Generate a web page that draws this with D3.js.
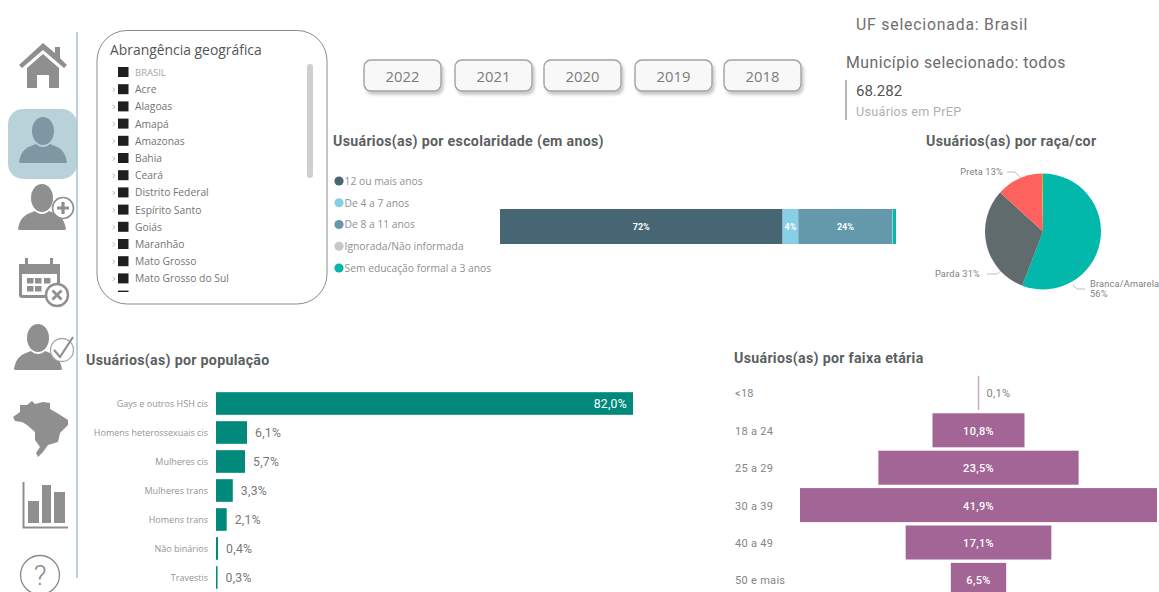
<!DOCTYPE html>
<html lang="pt-BR">
<head>
<meta charset="utf-8">
<title>Usuários em PrEP</title>
<script src="https://cdn.jsdelivr.net/npm/d3@7/dist/d3.min.js"></script>
<style>
  html, body { margin: 0; padding: 0; background: #fff; overflow: hidden; }
  svg { display: block; }
  text { font-family: Roboto, "Open Sans", sans-serif; }
  .seg { font-family: "Open Sans", sans-serif; }
  .axis .domain, .axis line { display: none; }
</style>
</head>
<body>
<svg id="painel" width="1159" height="592" viewBox="0 0 1159 592"></svg>
<script>
// Dados do painel
const anos = ["2022", "2021", "2020", "2019", "2018"];
const estados = ["BRASIL", "Acre", "Alagoas", "Amapá", "Amazonas", "Bahia", "Ceará",
  "Distrito Federal", "Espírito Santo", "Goiás", "Maranhão", "Mato Grosso",
  "Mato Grosso do Sul", "Minas Gerais"];

const escolaridadeCategorias = ["12 ou mais anos", "De 4 a 7 anos", "De 8 a 11 anos",
  "Ignorada/Não informada", "Sem educação formal a 3 anos"];
const escolaridadeValores = [72, 4, 24, 0.1, 0.8];
const escolaridadeCores = ["#466673", "#87cfe6", "#6499ac", "#c8c8c8", "#01b8aa"];

const racaCategorias = ["Branca/Amarela", "Parda", "Preta", "Ignorada"];
const racaValores = [56, 31, 13, 0.3];
const racaCores = ["#01b8aa", "#5f6b6d", "#fd625e", "#d9b300"];

const populacaoCategorias = ["Gays e outros HSH cis", "Homens heterossexuais cis", "Mulheres cis",
  "Mulheres trans", "Homens trans", "Não binários", "Travestis"];
const populacaoValores = [82.0, 6.1, 5.7, 3.3, 2.1, 0.4, 0.3];

const faixaCategorias = ["<18", "18 a 24", "25 a 29", "30 a 39", "40 a 49", "50 e mais"];
const faixaValores = [0.1, 10.8, 23.5, 41.9, 17.1, 6.5];

const totalUsuarios = "68.282";
const virgula = d => d.toFixed(1).replace(".", ",") + "%";

const svg = d3.select("#painel");
const defs = svg.append("defs");
const sombra = defs.append("filter").attr("id", "sombra")
  .attr("x", "-10%").attr("y", "-20%").attr("width", "125%").attr("height", "150%");
sombra.append("feDropShadow").attr("dx", 2).attr("dy", 3).attr("stdDeviation", 1.6)
  .attr("flood-color", "#000").attr("flood-opacity", 0.22);
defs.append("clipPath").attr("id", "clipLista").append("rect")
  .attr("x", 100).attr("y", 62).attr("width", 224).attr("height", 230);
defs.append("clipPath").attr("id", "clipTela").append("rect")
  .attr("width", 1159).attr("height", 592);

const titulo = (x, y, t) => svg.append("text").attr("x", x).attr("y", y).text(t)
  .attr("font-size", 14.2).attr("font-weight", 700).attr("letter-spacing", 0.3).attr("fill", "#5a5f61");

/* ---------- Barra de navegação ---------- */
const cinza = "#8f8f8f";
const nav = svg.append("g");
nav.append("rect").attr("x", 8).attr("y", 109).attr("width", 69).attr("height", 70)
  .attr("rx", 15).attr("fill", "#b9d2da");
nav.append("line").attr("x1", 77).attr("x2", 77).attr("y1", 32).attr("y2", 578)
  .attr("stroke", "#a9c4de").attr("stroke-width", 1.6);

// Casa
nav.append("path").attr("fill", cinza)
  .attr("d", "M43 43 L55 53 V47 H60 V58 L67 65 L64 68 L43 50 L22 68 L19 65 Z M27 68 L43 54 L59 68 V88 H49 V75 H37 V88 H27 Z");

// Silhueta de pessoa: cabeça e ombros
function pessoa(cx, cy, esc, cor) {
  const g = nav.append("g").attr("transform", `translate(${cx},${cy}) scale(${esc})`).attr("fill", cor);
  g.append("ellipse").attr("cx", 0).attr("cy", -11).attr("rx", 11).attr("ry", 14);
  g.append("path").attr("d", "M-24 20 C-22 8 -16 5 -7 2 C-3 6 3 6 7 2 C16 5 22 8 24 20 Q24 21 22 21 H-22 Q-24 21 -24 20 Z");
}
pessoa(43, 142, 1, "#7d98a2");
pessoa(42, 209, 1, cinza);
pessoa(38, 349, 1, cinza);

// Emblema de adição
nav.append("circle").attr("cx", 63).attr("cy", 208).attr("r", 10.5)
  .attr("fill", "#fff").attr("stroke", cinza).attr("stroke-width", 1.6);
nav.append("path").attr("d", "M57 208 H69 M63 202 V214").attr("stroke", cinza).attr("stroke-width", 3.2);

// Calendário com X
nav.append("path").attr("fill", cinza).attr("fill-rule", "evenodd")
  .attr("d", "M19 264 H25 V258 H28 V264 H50 V258 H53 V264 H60 V286 H57 V274 H22 V295 H46 V298 H22 Q19 298 19 295 Z");
[[27, 278], [35, 278], [44, 278], [27, 286], [35, 286]].forEach(([x, y]) =>
  nav.append("rect").attr("x", x).attr("y", y).attr("width", 6.5).attr("height", 5.5).attr("fill", cinza));
nav.append("circle").attr("cx", 57).attr("cy", 295).attr("r", 11)
  .attr("fill", "#fff").attr("stroke", cinza).attr("stroke-width", 2.4);
nav.append("path").attr("d", "M52.5 290.5 L61.5 299.5 M61.5 290.5 L52.5 299.5").attr("stroke", cinza).attr("stroke-width", 2.8);

// Emblema de confirmação
nav.append("circle").attr("cx", 62).attr("cy", 350).attr("r", 11.5)
  .attr("fill", "#fff").attr("stroke", "#a8a8a8").attr("stroke-width", 1.3);
nav.append("path").attr("d", "M54 350 L60 357 L73 337").attr("fill", "none").attr("stroke", cinza).attr("stroke-width", 2.2);

// Mapa do Brasil
nav.append("path").attr("fill", cinza)
  .attr("d", "M13 417 L20 412 L20 405 L27 405 L32 401 L35 404 L43 402 L50 403 L50 409 L57 413 L68 420 L68 425 L60 433 L58 442 L48 445 L43 452 L38 457 L36 453 L40 447 L35 440 L35 432 L27 425 L22 422 L15 421 Z");

// Gráfico de barras
nav.append("path").attr("d", "M23.5 482 V527.5 H68").attr("fill", "none").attr("stroke", cinza).attr("stroke-width", 2);
nav.append("rect").attr("x", 28).attr("y", 501).attr("width", 11).attr("height", 22).attr("fill", cinza);
nav.append("rect").attr("x", 42).attr("y", 485).attr("width", 9).attr("height", 38).attr("fill", cinza);
nav.append("rect").attr("x", 54).attr("y", 492).attr("width", 11).attr("height", 31).attr("fill", cinza);

// Ajuda
nav.append("circle").attr("cx", 40).attr("cy", 575).attr("r", 19.5)
  .attr("fill", "none").attr("stroke", "#8a8a8a").attr("stroke-width", 1.3);
nav.append("text").attr("x", 40).attr("y", 585).attr("text-anchor", "middle")
  .attr("font-size", 28).attr("font-weight", 300).attr("fill", "#8a8a8a").text("?");

/* ---------- Filtro de abrangência geográfica ---------- */
svg.append("rect").attr("x", 97).attr("y", 30.5).attr("width", 230).attr("height", 273.5)
  .attr("rx", 30).attr("fill", "#fff").attr("stroke", "#8a8a8a").attr("stroke-width", 1);
svg.append("text").attr("class", "seg").attr("x", 110).attr("y", 55).attr("font-size", 13.9)
  .attr("fill", "#555").text("Abrangência geográfica");
svg.append("rect").attr("x", 307).attr("y", 64).attr("width", 6).attr("height", 114)
  .attr("rx", 3).attr("fill", "#cfcfcf");

const yLista = d3.scalePoint().domain(estados).range([72, 72 + 17.2 * (estados.length - 1)]);
const lista = svg.append("g").attr("clip-path", "url(#clipLista)");
const linhas = lista.selectAll("g").data(estados).join("g")
  .attr("transform", d => `translate(0,${yLista(d)})`);
linhas.append("rect").attr("x", 118).attr("y", -5).attr("width", 10.5).attr("height", 10).attr("fill", "#1f1f1f");
linhas.filter((d, i) => i > 0).append("path").attr("d", "M112.5 -1.5 L115 0.5 L112.5 2.5")
  .attr("fill", "none").attr("stroke", "#aaa").attr("stroke-width", 0.8);
linhas.append("text").attr("class", "seg").attr("x", 135).attr("y", 4)
  .attr("font-size", d => d === "BRASIL" ? 9.5 : 10.3)
  .attr("fill", d => d === "BRASIL" ? "#a6a6a6" : "#747474").text(d => d);

/* ---------- Seletor de ano ---------- */
const xBotoes = [364, 455, 544, 635, 724];
const botoes = svg.selectAll("g.ano").data(anos).join("g").attr("class", "ano")
  .attr("transform", (d, i) => `translate(${xBotoes[i]},60)`);
botoes.append("rect").attr("width", 77).attr("height", 31).attr("rx", 7)
  .attr("fill", "#f8f8f8").attr("stroke", "#a2a2a2").attr("stroke-width", 1.4).attr("filter", "url(#sombra)");
botoes.append("text").attr("class", "seg").attr("x", 38.5).attr("y", 22).attr("text-anchor", "middle")
  .attr("font-size", 14.8).attr("fill", "#7c7c7c").text(d => d);

/* ---------- Cabeçalho à direita ---------- */
svg.append("text").attr("x", 856).attr("y", 30).attr("font-size", 15.8).attr("letter-spacing", 0.8)
  .attr("fill", "#6f6f6f").text("UF selecionada: Brasil");
svg.append("text").attr("x", 846).attr("y", 68).attr("font-size", 15.8).attr("letter-spacing", 0.5)
  .attr("fill", "#6a6a6a").text("Município selecionado: todos");
svg.append("rect").attr("x", 845).attr("y", 80).attr("width", 2).attr("height", 40).attr("fill", "#b5b5b5");
svg.append("text").attr("x", 856).attr("y", 96).attr("font-size", 15).attr("fill", "#555").text(totalUsuarios);
svg.append("text").attr("x", 856).attr("y", 116).attr("font-size", 12.6).attr("letter-spacing", 0.3)
  .attr("fill", "#b0b0b0").text("Usuários em PrEP");

/* ---------- Escolaridade: barra empilhada ---------- */
titulo(333, 146, "Usuários(as) por escolaridade (em anos)");

const yLegenda = d3.scalePoint().domain(escolaridadeCategorias).range([181, 268]);
const legenda = svg.selectAll("g.leg").data(escolaridadeCategorias).join("g").attr("class", "leg")
  .attr("transform", d => `translate(339,${yLegenda(d)})`);
legenda.append("circle").attr("r", 4.6).attr("fill", (d, i) => escolaridadeCores[i]);
legenda.append("text").attr("class", "seg").attr("x", 5.5).attr("y", 3.8).attr("font-size", 10.3)
  .attr("fill", "#8f8f8f").text(d => d);

const xEsc = d3.scaleLinear().domain([0, d3.sum(escolaridadeValores)]).range([500, 896]);
let acumulado = 0;
const pilha = escolaridadeValores.map((v, i) => {
  const seg = { v, i, x0: acumulado, x1: acumulado + v };
  acumulado += v;
  return seg;
});
svg.selectAll("rect.esc").data(pilha).join("rect").attr("class", "esc")
  .attr("x", d => xEsc(d.x0)).attr("width", d => xEsc(d.x1) - xEsc(d.x0))
  .attr("y", 209).attr("height", 35).attr("fill", d => escolaridadeCores[d.i]);
svg.selectAll("text.esc").data(pilha.filter(d => d.v >= 1)).join("text").attr("class", "esc")
  .attr("x", d => (xEsc(d.x0) + xEsc(d.x1)) / 2).attr("y", 230).attr("text-anchor", "middle")
  .attr("font-size", 9).attr("font-weight", 700).attr("fill", "#fff").text(d => d.v + "%");

/* ---------- Raça/cor: pizza ---------- */
titulo(926, 146, "Usuários(as) por raça/cor");
const pizza = d3.pie().sort(null).value(d => d)(racaValores);
const arco = d3.arc().innerRadius(0).outerRadius(58);
svg.append("g").attr("transform", "translate(1043,231.5)")
  .selectAll("path").data(pizza).join("path")
  .attr("d", arco).attr("fill", (d, i) => racaCores[i]);

const guia = "#b5b5b5";
["M1007 172 H1015 L1020 177", "M987 274 H997 L1001 271", "M1073 285 L1077 289 H1085"].forEach(d =>
  svg.append("path").attr("d", d).attr("fill", "none").attr("stroke", guia).attr("stroke-width", 0.9));
const rotulo = (x, y, t, ancora) => svg.append("text").attr("x", x).attr("y", y).attr("text-anchor", ancora)
  .attr("font-size", 9.2).attr("letter-spacing", 0.2).attr("fill", "#808080").text(t);
rotulo(1003, 175, `${racaCategorias[2]} ${racaValores[2]}%`, "end");
rotulo(980, 277, `${racaCategorias[1]} ${racaValores[1]}%`, "end");
rotulo(1090, 287, racaCategorias[0], "start");
rotulo(1090, 297, `${racaValores[0]}%`, "start");

/* ---------- População: barras horizontais ---------- */
titulo(86, 365, "Usuários(as) por população");
const xPop = d3.scaleLinear().domain([0, 82]).range([216, 633]);
const yPop = d3.scaleBand().domain(populacaoCategorias).range([389, 592]).paddingInner(0.22).paddingOuter(0.11);
svg.selectAll("rect.pop").data(populacaoValores).join("rect").attr("class", "pop")
  .attr("x", xPop(0)).attr("y", (d, i) => yPop(populacaoCategorias[i]))
  .attr("width", d => xPop(d) - xPop(0)).attr("height", yPop.bandwidth()).attr("fill", "#01897b");
svg.append("g").attr("class", "axis").attr("transform", "translate(216,1)")
  .call(d3.axisLeft(yPop).tickSize(0).tickPadding(8))
  .call(g => g.selectAll("text").attr("class", "seg").attr("font-size", 9).attr("fill", "#949494"));
svg.selectAll("text.pop").data(populacaoValores).join("text").attr("class", "pop")
  .attr("x", d => d > 50 ? xPop(d) - 6 : xPop(d) + 8)
  .attr("y", (d, i) => yPop(populacaoCategorias[i]) + yPop.bandwidth() / 2 + 4.4)
  .attr("text-anchor", d => d > 50 ? "end" : "start")
  .attr("font-size", 12.2).attr("letter-spacing", 0.3)
  .attr("fill", d => d > 50 ? "#fff" : "#777").text(virgula);

/* ---------- Faixa etária: funil centralizado ---------- */
titulo(734, 363, "Usuários(as) por faixa etária");
const larguraFaixa = d3.scaleLinear().domain([0, 41.9]).range([0, 357]);
const yFaixa = d3.scaleBand().domain(faixaCategorias).range([374.2, 598.6]).paddingInner(0.09).paddingOuter(0.045);
const centroFaixa = 978.5;
const funil = svg.append("g").attr("clip-path", "url(#clipTela)");
funil.selectAll("rect").data(faixaValores).join("rect")
  .attr("x", d => centroFaixa - Math.max(larguraFaixa(d), 1.4) / 2)
  .attr("y", (d, i) => yFaixa(faixaCategorias[i]))
  .attr("width", d => Math.max(larguraFaixa(d), 1.4)).attr("height", yFaixa.bandwidth())
  .attr("fill", d => d < 1 ? "#c9a3bf" : "#a26596");
svg.append("g").attr("class", "axis").attr("transform", "translate(735,1)")
  .call(d3.axisRight(yFaixa).tickSize(0).tickPadding(0))
  .call(g => g.selectAll("text").attr("font-size", 11).attr("letter-spacing", 0.3).attr("fill", "#858585"));
svg.selectAll("text.faixa").data(faixaValores).join("text").attr("class", "faixa")
  .attr("x", d => d < 1 ? centroFaixa + 8 : centroFaixa)
  .attr("y", (d, i) => yFaixa(faixaCategorias[i]) + yFaixa.bandwidth() / 2 + 4.5)
  .attr("text-anchor", d => d < 1 ? "start" : "middle")
  .attr("font-size", 11).attr("font-weight", d => d < 1 ? 400 : 500).attr("letter-spacing", 0.3)
  .attr("fill", d => d < 1 ? "#808080" : "#fff").text(virgula);
</script>
</body>
</html>
